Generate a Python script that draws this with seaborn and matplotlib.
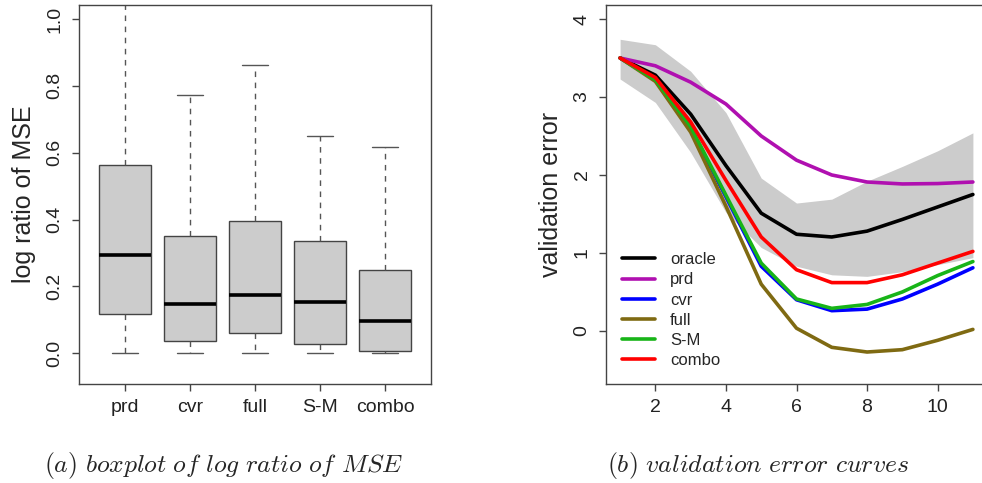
import numpy as np
import pandas as pd
import seaborn as sns
import matplotlib.pyplot as plt

# boxplot summaries: min, Q1, median, Q3, max
methods = ["prd", "cvr", "full", "S-M", "combo"]
prd_box = [0.0, 0.118, 0.295, 0.563, 1.2]
cvr_box = [0.0, 0.036, 0.148, 0.351, 0.773]
full_box = [0.0, 0.060, 0.174, 0.396, 0.863]
sm_box = [0.0, 0.028, 0.154, 0.335, 0.649]
combo_box = [0.0, 0.006, 0.097, 0.250, 0.617]

# validation error curves
steps = list(range(1, 12))
band_hi = [3.74, 3.67, 3.33, 2.80, 1.96, 1.64, 1.69, 1.92, 2.11, 2.31, 2.54]
band_lo = [3.23, 2.93, 2.29, 1.52, 1.07, 0.83, 0.72, 0.70, 0.76, 0.85, 0.94]
oracle = [3.50, 3.28, 2.78, 2.12, 1.51, 1.24, 1.205, 1.28, 1.43, 1.59, 1.75]
prd = [3.50, 3.40, 3.19, 2.91, 2.50, 2.19, 2.00, 1.91, 1.885, 1.89, 1.91]
cvr = [3.50, 3.22, 2.60, 1.72, 0.83, 0.40, 0.26, 0.28, 0.41, 0.60, 0.81]
full = [3.50, 3.20, 2.55, 1.60, 0.60, 0.035, -0.21, -0.27, -0.24, -0.12, 0.02]
sm = [3.50, 3.22, 2.62, 1.74, 0.87, 0.41, 0.29, 0.34, 0.50, 0.71, 0.89]
combo = [3.50, 3.25, 2.68, 1.93, 1.205, 0.785, 0.62, 0.62, 0.72, 0.87, 1.02]

curve_names = ["oracle", "prd", "cvr", "full", "S-M", "combo"]
curve_vals = [oracle, prd, cvr, full, sm, combo]
curve_cols = ["#000000", "#B010B0", "#0000FF", "#7F6A12", "#18B418", "#FF0000"]

sns.set_theme(style="ticks")
plt.rcParams["font.family"] = ["Liberation Sans", "DejaVu Sans"]
plt.rcParams["mathtext.fontset"] = "cm"

edge = "#444444"
fig = plt.figure(figsize=(9.82, 4.83), dpi=100)
ax1 = fig.add_axes([0.0804, 0.205, 0.3585, 0.7847])
ax2 = fig.add_axes([0.6171, 0.205, 0.388, 0.7847])

# ---- left: boxplot
box_df = pd.DataFrame({
    "method": np.repeat(methods, 5),
    "value": np.concatenate([prd_box, cvr_box, full_box, sm_box, combo_box]),
})
sns.boxplot(data=box_df, x="method", y="value", ax=ax1, color="#CCCCCC",
            saturation=1, width=0.8, whis=(0, 100), linecolor=edge, linewidth=1,
            showfliers=False,
            medianprops={"color": "black", "linewidth": 2.6},
            whiskerprops={"color": "#555555", "linestyle": (0, (4, 4)), "linewidth": 1},
            capprops={"color": "#555555", "linewidth": 1})
ax1.set_xlim(-0.7, 4.7)
ax1.set_ylim(-0.092, 1.042)
ax1.set_yticks([0.0, 0.2, 0.4, 0.6, 0.8, 1.0])
ax1.set_yticklabels(["0.0", "0.2", "0.4", "0.6", "0.8", "1.0"])
ax1.set_xlabel("")
ax1.set_ylabel("log ratio of MSE", fontsize=18, labelpad=8)

# ---- right: curves
ax2.fill_between(steps, band_lo, band_hi, color="#CCCCCC", lw=0)
for name, vals, col in zip(curve_names, curve_vals, curve_cols):
    sns.lineplot(x=steps, y=vals, ax=ax2, color=col, lw=2.6, label=name)
ax2.set_xlim(0.6, 11.4)
ax2.set_ylim(-0.68, 4.18)
ax2.set_xticks([2, 4, 6, 8, 10])
ax2.set_yticks([0, 1, 2, 3, 4])
ax2.set_ylabel("validation error", fontsize=18, labelpad=8)
ax2.legend(loc="lower left", frameon=False, fontsize=12, handlelength=2.0,
           handletextpad=0.9, labelspacing=0.31, borderaxespad=0.55, borderpad=0.4)

for ax in (ax1, ax2):
    for s in ax.spines.values():
        s.set_visible(True)
        s.set_color(edge)
        s.set_linewidth(1)
    ax.tick_params(direction="out", length=5, width=1, color=edge,
                   labelsize=14, labelcolor="#222222")
    ax.tick_params(axis="y", labelrotation=90, pad=6)
    ax.tick_params(axis="x", pad=6)
    for t in ax.get_yticklabels():
        t.set_va("center")

fig.text(0.228, 0.037, r"$\mathit{(a)\ boxplot\ of\ log\ ratio\ of\ MSE}$",
         fontsize=18.5, ha="center", va="center")
fig.text(0.772, 0.037, r"$\mathit{(b)\ validation\ error\ curves}$",
         fontsize=18.5, ha="center", va="center")

fig.savefig("out.png", dpi=100)
